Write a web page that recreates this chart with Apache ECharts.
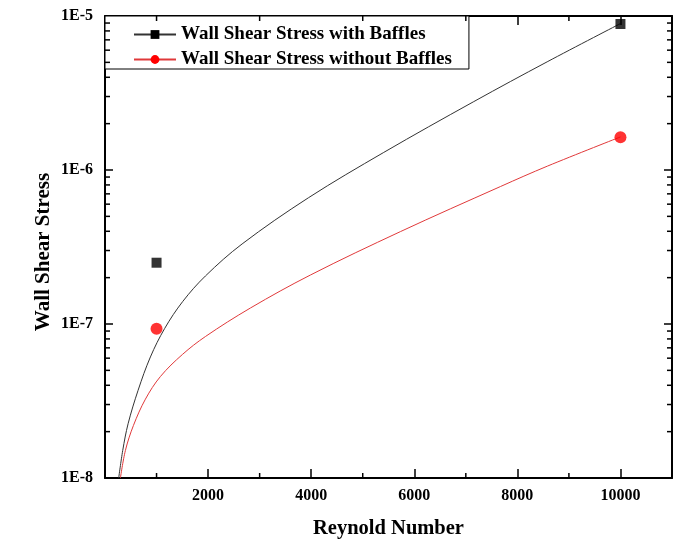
<!DOCTYPE html>
<html><head><meta charset="utf-8">
<script src="https://cdn.jsdelivr.net/npm/echarts@6/dist/echarts.min.js"></script>
<style>html,body{margin:0;padding:0;background:#fff}#c{width:679px;height:540px}</style>
</head><body><div id="c"></div>
<script>
const seriesNames = ['Wall Shear Stress with Baffles', 'Wall Shear Stress without Baffles'];
const pointRe = [1000, 10000];
const withBafflesPoints = [2.5e-7, 8.87e-6];
const withoutBafflesPoints = [9.3e-8, 1.63e-6];

const withFitRe  = [266, 344, 448, 642, 881, 1158, 1508, 1948, 2660, 3946, 5407, 7154, 8578, 10000];
const withFitVal = [1.0e-8, 1.51e-8, 2.25e-8, 3.71e-8, 6.11e-8, 9.36e-8, 1.40e-7, 2.05e-7, 3.31e-7, 6.6e-7, 1.30e-6, 2.78e-6, 5.04e-6, 8.93e-6];

const withoutFitRe  = [299, 396, 551, 784, 1075, 1502, 1948, 2821, 3985, 5731, 7672, 8584, 10000];
const withoutFitVal = [1.0e-8, 1.51e-8, 2.19e-8, 3.25e-8, 4.56e-8, 6.34e-8, 8.29e-8, 1.27e-7, 2.08e-7, 3.98e-7, 7.81e-7, 1.06e-6, 1.64e-6];

const xMinorTicks = [1000, 3000, 5000, 7000, 9000];
const yMinorMantissas = [2, 3, 4, 5, 6, 7, 8, 9];
const yDecades = [1e-8, 1e-7, 1e-6];

const X_MIN = 0, X_MAX = 11000, Y_MIN = 1e-8, Y_MAX = 1e-5;
const FONT = "'Liberation Serif', 'Times New Roman', serif";

const yMinorTicks = [];
yDecades.forEach(d => yMinorMantissas.forEach(m => yMinorTicks.push(m * d)));

const zip = (a, b) => a.map((v, i) => [v, b[i]]);

const chart = echarts.init(document.getElementById('c'), null, {renderer: 'canvas'});

const axisLineStyle = {color: '#000', width: 2};
const labelStyle = {color: '#000', fontFamily: FONT, fontWeight: 'bold', fontSize: 16};

chart.setOption({
  animation: false,
  backgroundColor: '#fff',
  grid: {left: 105, right: 7, top: 16, bottom: 62, containLabel: false, outerBoundsMode: 'none'},
  legend: {
    data: seriesNames,
    orient: 'vertical',
    left: 105, top: 16,
    backgroundColor: '#fff',
    borderColor: '#000', borderWidth: 1,
    padding: [9, 17, 0, 28],
    itemGap: 6,
    itemWidth: 42, itemHeight: 11,
    itemTextGap: 6,
    textStyle: {color: '#000', fontFamily: FONT, fontWeight: 'bold', fontSize: 19},
    selectedMode: false
  },
  xAxis: [{
    type: 'value', min: X_MIN, max: X_MAX, interval: 2000,
    name: 'Reynold Number', nameLocation: 'middle', nameGap: 40.5,
    nameTextStyle: {color: '#000', fontFamily: FONT, fontWeight: 'bold', fontSize: 20.5},
    axisLine: {show: true, onZero: false, lineStyle: axisLineStyle},
    axisTick: {show: true, inside: true, length: 9, lineStyle: {color: '#000', width: 1.5}},
    axisLabel: Object.assign({margin: 10, showMinLabel: false, showMaxLabel: false,
      formatter: v => (v === 0 || v === X_MAX) ? '' : String(v)}, labelStyle),
    splitLine: {show: false}
  }, {
    type: 'value', min: X_MIN, max: X_MAX, interval: 2000, position: 'top',
    axisLine: {show: true, onZero: false, lineStyle: axisLineStyle},
    axisTick: {show: true, inside: true, length: 9, lineStyle: {color: '#000', width: 1.5}},
    axisLabel: {show: false}, splitLine: {show: false}
  }],
  yAxis: [{
    type: 'log', logBase: 10, min: Y_MIN, max: Y_MAX,
    name: 'Wall Shear Stress', nameLocation: 'middle', nameGap: 51, nameRotate: 90,
    nameMoveOverlap: false,
    nameTextStyle: {color: '#000', fontFamily: FONT, fontWeight: 'bold', fontSize: 21, padding: [0, 10, 0, 0]},
    axisLine: {show: true, onZero: false, lineStyle: axisLineStyle},
    axisTick: {show: true, inside: true, length: 8, lineStyle: {color: '#000', width: 1.5}},
    axisLabel: Object.assign({margin: 12, formatter: v => '1E' + Math.round(Math.log10(v))}, labelStyle),
    splitLine: {show: false}
  }, {
    type: 'log', logBase: 10, min: Y_MIN, max: Y_MAX, position: 'right',
    axisLine: {show: true, onZero: false, lineStyle: axisLineStyle},
    axisTick: {show: true, inside: true, length: 8, lineStyle: {color: '#000', width: 1.5}},
    axisLabel: {show: false}, splitLine: {show: false}
  }],
  series: [
    {
      name: seriesNames[0], type: 'line', data: zip(withFitRe, withFitVal),
      smooth: 0.35, symbol: 'rect', showSymbol: false, color: '#000',
      lineStyle: {color: '#333', width: 1}, itemStyle: {color: '#000'}, z: 3, silent: true
    },
    {
      name: seriesNames[1], type: 'line', data: zip(withoutFitRe, withoutFitVal),
      smooth: 0.35, symbol: 'circle', showSymbol: false, color: '#ff0000',
      lineStyle: {color: '#e0393a', width: 1}, itemStyle: {color: '#ff0000'}, z: 3, silent: true
    },
    {
      name: seriesNames[0], type: 'scatter', data: zip(pointRe, withBafflesPoints),
      symbol: 'rect', symbolSize: 10, itemStyle: {color: '#000'}, z: 6, silent: true
    },
    {
      name: seriesNames[1], type: 'scatter', data: zip(pointRe, withoutBafflesPoints),
      symbol: 'circle', symbolSize: 12, itemStyle: {color: '#ff0000'}, z: 6, silent: true
    },
    {
      type: 'custom', silent: true, z: 8, clip: false,
      data: yMinorTicks.map(v => [X_MIN, v]),
      renderItem: (params, api) => {
        const v = api.value(1);
        const l = api.coord([X_MIN, v]);
        const r = api.coord([X_MAX, v]);
        const st = {stroke: '#000', lineWidth: 1.5};
        return {type: 'group', children: [
          {type: 'line', shape: {x1: l[0], y1: l[1], x2: l[0] + 5, y2: l[1]}, style: st},
          {type: 'line', shape: {x1: r[0], y1: r[1], x2: r[0] - 5, y2: r[1]}, style: st}
        ]};
      }
    },
    {
      type: 'custom', silent: true, z: 8, clip: false,
      data: xMinorTicks.map(v => [v, Y_MIN]),
      renderItem: (params, api) => {
        const v = api.value(0);
        const b = api.coord([v, Y_MIN]);
        const t = api.coord([v, Y_MAX]);
        const st = {stroke: '#000', lineWidth: 1.5};
        return {type: 'group', children: [
          {type: 'line', shape: {x1: b[0], y1: b[1], x2: b[0], y2: b[1] - 5}, style: st},
          {type: 'line', shape: {x1: t[0], y1: t[1], x2: t[0], y2: t[1] + 5}, style: st}
        ]};
      }
    }
  ]
});
</script>
</body></html>
